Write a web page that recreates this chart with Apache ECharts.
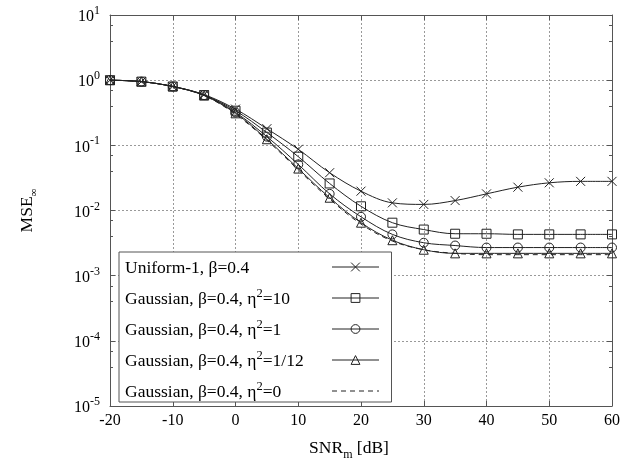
<!DOCTYPE html>
<html>
<head>
<meta charset="utf-8">
<script src="https://cdn.jsdelivr.net/npm/echarts@6/dist/echarts.min.js"></script>
<style>html,body{margin:0;padding:0;background:#fff}#c{width:634px;height:463px}</style>
</head>
<body>
<div id="c"></div>
<script>
const snr = [-20,-15,-10,-5,0,5,10,15,20,25,30,35,40,45,50,55,60];
const uniform1 = [1.0,0.95,0.8,0.6,0.36,0.18,0.087,0.038,0.0198,0.0131,0.0124,0.0142,0.018,0.0228,0.0266,0.028,0.028];
const gauss10 = [1.0,0.95,0.8,0.59,0.34,0.157,0.067,0.026,0.0116,0.0065,0.0051,0.0044,0.0044,0.0043,0.0043,0.0043,0.0043];
const gauss1 = [1.0,0.95,0.8,0.59,0.32,0.136,0.051,0.018,0.008,0.0043,0.0032,0.0029,0.0027,0.0027,0.0027,0.0027,0.0027];
const gauss112 = [1.0,0.95,0.8,0.58,0.31,0.124,0.044,0.0157,0.0065,0.0035,0.0025,0.0022,0.0022,0.0022,0.0022,0.0022,0.0022];
const gauss0 = [1.0,0.95,0.8,0.58,0.30,0.12,0.042,0.015,0.0062,0.0034,0.0025,0.0022,0.0021,0.0021,0.0021,0.0021,0.0021];
// legend parts: [before superscript, superscript, after]
const legendParts = [
  ['Uniform-1, β=0.4','',''],
  ['Gaussian, β=0.4, η','2','=10'],
  ['Gaussian, β=0.4, η','2','=1'],
  ['Gaussian, β=0.4, η','2','=1/12'],
  ['Gaussian, β=0.4, η','2','=0']
];
const names = legendParts.map(p => p.join(''));
const xTicks = [-20,-10,0,10,20,30,40,50,60];

const FONT = 'Liberation Serif';
const LFS = 17.5, LSS = 12.5;
const frame = '#555';
function pairs(ys){ return snr.map((x,i)=>[x,ys[i]]); }
const SYM = {
  x: 'path://M0,0L10,10M0,10L10,0',
  rect: 'path://M0,0L10,0L10,10L0,10Z',
  circle: 'path://M0,5A5,5,0,1,1,10,5A5,5,0,1,1,0,5Z',
  tri: 'path://M5,0L10,9L0,9Z'
};

function mk(name, ys, symbol, dashed){
  return {
    name, type:'line', data: pairs(ys), smooth:0.35,
    symbol: symbol, symbolSize: 9, showSymbol: symbol!=='none',
    lineStyle:{color:'#222', width:1, type: dashed?[5,4]:'solid'},
    itemStyle: symbol==='none' ? {color:'none', borderColor:'none', borderWidth:0, opacity:0}
                                : {color:'none', borderColor:'#222', borderWidth:1},
    emphasis:{disabled:true}, animation:false, z:3
  };
}

// measure legend text widths to left-align text with icons at right
const cv = document.createElement('canvas').getContext('2d');
function tw(s, fs){ cv.font = fs + 'px "' + FONT + '"'; return cv.measureText(s).width; }
const TEXTBOX = 202;
const legendRich = {
  t:{fontFamily:FONT,fontSize:LFS,color:'#000',lineHeight:20,verticalAlign:'bottom'},
  s:{fontFamily:FONT,fontSize:LSS,color:'#000',lineHeight:12,verticalAlign:'bottom',padding:[0,0,8,0]}
};
legendParts.forEach((p,i)=>{
  const w = tw(p[0],LFS) + (p[1]?tw(p[1],LSS):0) + (p[2]?tw(p[2],LFS):0);
  legendRich['p'+i] = {width:Math.max(0,TEXTBOX - w), lineHeight:20, fontSize:LFS};
});
function legendFmt(n){
  const i = names.indexOf(n), p = legendParts[i];
  let s = '{t|' + p[0] + '}';
  if (p[1]) s += '{s|' + p[1] + '}{t|' + p[2] + '}';
  return s + '{p' + i + '| }';
}

const chart = echarts.init(document.getElementById('c'), null, {renderer:'canvas'});
const labelRich = {b:{fontFamily:FONT,fontSize:16,color:'#000',verticalAlign:'bottom'}, s:{fontFamily:FONT,fontSize:12,color:'#000',verticalAlign:'bottom',padding:[0,0,8,0]}};
chart.setOption({
  animation:false,
  backgroundColor:'#fff',
  grid:{left:110,right:22,top:15,bottom:57,containLabel:false,outerBoundsMode:'none'},
  xAxis:[{
    type:'value', min:-20, max:60, interval:10,
    axisLine:{show:true,onZero:false,lineStyle:{color:frame,width:1}},
    axisTick:{show:true,inside:true,length:5,lineStyle:{color:frame}},
    axisLabel:{color:'#000',fontFamily:FONT,fontSize:16,margin:7,formatter:v=>xTicks.includes(v)?String(v):''},
    splitLine:{show:true,lineStyle:{color:'#999',type:[2,2],width:1}},
    name:'{a|SNR}{s|m}{a| [dB]}', nameLocation:'middle', nameGap:33,
    nameTextStyle:{padding:[0,24,0,0],rich:{a:{fontFamily:FONT,fontSize:17.5,color:'#000',verticalAlign:'bottom',padding:[0,0,4,0]}, s:{fontFamily:FONT,fontSize:12,color:'#000',verticalAlign:'bottom'}}}
  },{
    type:'value', min:-20, max:60, interval:10, position:'top',
    axisLine:{show:true,onZero:false,lineStyle:{color:frame,width:1}},
    axisTick:{show:true,inside:true,length:5,lineStyle:{color:frame}},
    axisLabel:{show:false}, splitLine:{show:false}
  }],
  yAxis:[{
    type:'log', logBase:10, min:1e-5, max:10,
    axisLine:{show:true,onZero:false,lineStyle:{color:frame,width:1}},
    axisTick:{show:true,inside:true,length:5,lineStyle:{color:frame}},
    minorTick:{show:true,splitNumber:3,length:3,lineStyle:{color:frame}},
    axisLabel:{margin:10,formatter:v=>{const e=Math.round(Math.log10(v));return '{b|10}{s|'+e+'}';},rich:labelRich},
    splitLine:{show:true,lineStyle:{color:'#999',type:[2,2],width:1}},
    name:'{a|MSE}{s|∞}', nameLocation:'middle', nameGap:70, nameRotate:90,
    nameTextStyle:{rich:{a:{fontFamily:FONT,fontSize:17.5,color:'#000',verticalAlign:'bottom',padding:[0,0,4,0]}, s:{fontFamily:FONT,fontSize:11,color:'#000',verticalAlign:'bottom'}}}
  },{
    type:'log', logBase:10, min:1e-5, max:10, position:'right',
    axisLine:{show:true,onZero:false,lineStyle:{color:frame,width:1}},
    axisTick:{show:true,inside:true,length:5,lineStyle:{color:frame}},
    minorTick:{show:true,splitNumber:3,length:3,lineStyle:{color:frame}},
    axisLabel:{show:false}, splitLine:{show:false}
  }],
  legend:{
    orient:'vertical', left:119, top:252, align:'right',
    padding:[6,12,1,6], itemGap:10, itemWidth:47, itemHeight:11,
    backgroundColor:'#fff', borderColor:frame, borderWidth:1, borderRadius:0,
    selectedMode:false,
    lineStyle:{width:1},
    itemStyle:{borderWidth:1},
    data:names,
    formatter: legendFmt,
    textStyle:{fontFamily:FONT, fontSize:LFS, color:'#000', rich:legendRich}
  },
  series:[
    mk(names[0], uniform1, SYM.x, false),
    mk(names[1], gauss10, SYM.rect, false),
    mk(names[2], gauss1, SYM.circle, false),
    mk(names[3], gauss112, SYM.tri, false),
    mk(names[4], gauss0, 'none', true)
  ]
});
</script>
</body>
</html>
